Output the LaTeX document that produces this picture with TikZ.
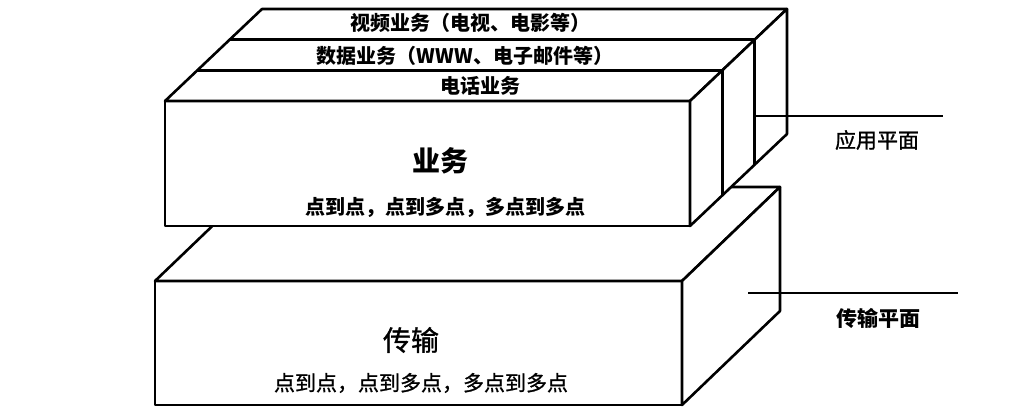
\documentclass[tikz,border=0pt]{standalone}
\usepackage{fontspec}
\newfontfamily\cjk{Noto Sans CJK SC}
\newfontfamily\cjkm[FakeBold=1]{Noto Sans CJK SC}
\begin{document}
\begin{tikzpicture}[x=1pt,y=-1pt,
  edge/.style={line width=2.6pt, line join=round, line cap=round},
  guide/.style={line width=1.6pt},
  face/.style={edge, fill=white},
  lblb/.style={font=\cjk\bfseries\fontsize{20}{24}\selectfont, inner sep=0pt},
  lblr/.style={font=\cjkm\fontsize{21}{25}\selectfont, inner sep=0pt},
  bigb/.style={font=\cjk\bfseries\fontsize{28}{32}\selectfont, inner sep=0pt},
  bigr/.style={font=\cjkm\fontsize{28}{32}\selectfont, inner sep=0pt},
  side/.style={font=\cjkm\fontsize{21}{25}\selectfont, inner sep=0pt},
  sideb/.style={font=\cjk\bfseries\fontsize{21}{25}\selectfont, inner sep=0pt}]
\useasboundingbox[fill=white] (0,0) rectangle (1016,412);

% lower block (transport)
\coordinate (LA) at (155,281);
\coordinate (LB) at (682,281);
\coordinate (LC) at (682,405);
\coordinate (LD) at (155,405);
\coordinate (LE) at (780,187);
\coordinate (LF) at (780,311);
\coordinate (LG) at (253,187);
\filldraw[face] (LA) -- (LB) -- (LC) -- (LD) -- cycle;
\filldraw[face] (LA) -- (LG) -- (LE) -- (LB) -- cycle;
\filldraw[face] (LB) -- (LE) -- (LF) -- (LC) -- cycle;

% transport plane guide
\coordinate (T1) at (748,293);
\coordinate (T2) at (958,293);
\draw[guide] (T1) -- (T2);

% upper block (services)
\coordinate (UA) at (165,101);
\coordinate (UB) at (690,101);
\coordinate (UC) at (690,226);
\coordinate (UD) at (165,226);
\coordinate (UE) at (787,9);
\coordinate (UF) at (787,134);
\coordinate (UG) at (262,9);
\coordinate (UA1) at (197.3,70.3);
\coordinate (UB1) at (722.3,70.3);
\coordinate (UA2) at (229.7,39.7);
\coordinate (UB2) at (754.7,39.7);
\coordinate (UC1) at (722.3,195.3);
\coordinate (UC2) at (754.7,164.7);
\filldraw[face] (UA) -- (UB) -- (UC) -- (UD) -- cycle;
\filldraw[face] (UA) -- (UG) -- (UE) -- (UB) -- cycle;
\filldraw[face] (UB) -- (UE) -- (UF) -- (UC) -- cycle;
\draw[edge] (UA1) -- (UB1) -- (UC1);
\draw[edge] (UA2) -- (UB2) -- (UC2);

% application plane guide
\coordinate (P1) at (755,116);
\coordinate (P2) at (943,116);
\draw[guide] (P1) -- (P2);

% texts
\node[lblb] (video) at (470,23) {视频业务（电视、电影等）};
\node[lblb] (data) at (465,56) {数据业务（WWW、电子邮件等）};
\node[lblb] (phone) at (480,86) {电话业务};
\node[bigb] (svc) at (440,161) {业务};
\node[lblb] (svcmode) at (445,207) {点到点，点到多点，多点到多点};
\node[bigr] (trans) at (411,340) {传输};
\node[lblr] (transmode) at (421,383) {点到点，点到多点，多点到多点};
\node[side] (app) at (877,140) {应用平面};
\node[sideb] (tp) at (878,318) {传输平面};
\end{tikzpicture}
\end{document}
